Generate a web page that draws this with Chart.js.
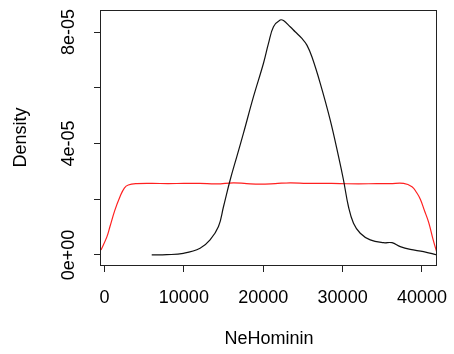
<!DOCTYPE html>
<html>
<head>
<meta charset="utf-8">
<script src="https://cdn.jsdelivr.net/npm/chart.js@4"></script>
<style>
  html, body { margin: 0; padding: 0; background: #fff; }
  #wrap { width: 454px; height: 354px; }
</style>
</head>
<body>
<div id="wrap"><canvas id="densityChart" width="454" height="354"></canvas></div>
<script>
// Data
const blackX = [5950, 7840, 9940, 12040, 13300, 14360, 14990, 15830, 16670, 17510, 18770, 20030, 20660, 21290, 22130, 22550, 23390, 24020, 24870, 25500, 26130, 27180, 28440, 29490, 30110, 30740, 31370, 32220, 33480, 35160, 36220, 37260, 38520, 40200, 41890];
const blackY = [0, 0.1e-6, 0.6e-6, 2.4e-6, 5.4e-6, 10.2e-6, 17.3e-6, 26.9e-6, 35.3e-6, 43.7e-6, 56.8e-6, 68.8e-6, 75.9e-6, 81.9e-6, 84.3e-6, 84.1e-6, 81.9e-6, 80.1e-6, 77.7e-6, 75.3e-6, 71.1e-6, 61.6e-6, 48.4e-6, 35.3e-6, 26.9e-6, 17.3e-6, 11.4e-6, 7.8e-6, 5.4e-6, 4.4e-6, 4.4e-6, 3.0e-6, 2.0e-6, 1.2e-6, 0];

const redX = [-440, 300, 690, 1300, 1950, 2500, 3000, 4060, 6000, 8000, 10000, 12000, 14150, 16240, 17900, 19610, 21500, 23390, 25500, 27500, 29700, 32000, 34320, 36000, 37680, 38740, 39300, 39790, 40300, 40840, 41400, 41890];
const redY = [1.8e-6, 6.5e-6, 10.2e-6, 16e-6, 20.9e-6, 24e-6, 25.1e-6, 25.6e-6, 25.7e-6, 25.6e-6, 25.7e-6, 25.7e-6, 25.5e-6, 25.9e-6, 25.6e-6, 25.4e-6, 25.6e-6, 25.9e-6, 25.7e-6, 25.7e-6, 25.6e-6, 25.5e-6, 25.6e-6, 25.6e-6, 25.7e-6, 24.5e-6, 22.5e-6, 20e-6, 16e-6, 11.7e-6, 5.5e-6, 0.7e-6];

const xTicks = [0, 10000, 20000, 30000, 40000];
const xTickLabels = ['0', '10000', '20000', '30000', '40000'];
const yTicks = [0, 2e-5, 4e-5, 6e-5, 8e-5];
const yTickLabels = ['0e+00', '', '4e-05', '', '8e-05'];

const toPoints = (xs, ys) => xs.map((x, i) => ({ x: x, y: ys[i] }));

Chart.defaults.font.family = "'Liberation Sans', Arial, sans-serif";
Chart.defaults.font.size = 18;
Chart.defaults.color = '#000';

// R style box around the plot region
const boxPlugin = {
    id: 'box',
    afterDraw(chart) {
        const a = chart.chartArea;
        const ctx = chart.ctx;
        ctx.save();
        ctx.strokeStyle = '#222';
        ctx.lineWidth = 1;
        ctx.strokeRect(Math.round(a.left) - 0.5, Math.round(a.top) + 0.5,
            Math.round(a.right - a.left), Math.round(a.bottom - a.top));
        ctx.restore();
    }
};

const noPad = s => { s.paddingTop = 0; s.paddingBottom = 0; s.paddingLeft = 0; s.paddingRight = 0; };

new Chart(document.getElementById('densityChart'), {
    type: 'line',
    data: {
        datasets: [
            {
                data: toPoints(blackX, blackY),
                borderColor: '#111',
                borderWidth: 1.2,
                pointRadius: 0,
                tension: 0.4,
                fill: false
            },
            {
                data: toPoints(redX, redY),
                borderColor: '#ff2020',
                borderWidth: 1.2,
                pointRadius: 0,
                tension: 0.4,
                fill: false
            }
        ]
    },
    options: {
        responsive: false,
        animation: false,
        layout: { padding: { top: 10, right: 17, left: 0, bottom: 0 } },
        plugins: { legend: { display: false }, tooltip: { enabled: false } },
        scales: {
            x: {
                type: 'linear',
                min: -440,
                max: 41890,
                border: { display: false },
                grid: { drawOnChartArea: false, drawTicks: true, tickLength: 7, color: '#222' },
                ticks: {
                    padding: 15,
                    maxRotation: 0,
                    autoSkip: false,
                    callback: v => xTickLabels[xTicks.indexOf(v)]
                },
                afterBuildTicks: s => { s.ticks = xTicks.map(v => ({ value: v })); },
                afterFit: s => { s.height = 89; noPad(s); },
                title: { display: true, text: 'NeHominin', padding: { top: 0, bottom: 4 } }
            },
            y: {
                min: -3.6e-6,
                max: 8.79e-5,
                border: { display: false },
                grid: { drawOnChartArea: false, drawTicks: true, tickLength: 7, color: '#222' },
                ticks: {
                    padding: 0,
                    minRotation: 90,
                    maxRotation: 90,
                    crossAlign: 'center',
                    autoSkip: false,
                    callback: v => yTickLabels[yTicks.indexOf(v)]
                },
                afterBuildTicks: s => { s.ticks = yTicks.map(v => ({ value: v })); },
                afterFit: s => { s.width = 101; noPad(s); },
                title: { display: true, text: 'Density', padding: { top: 10, bottom: 0 } }
            }
        }
    },
    plugins: [boxPlugin]
});
</script>
</body>
</html>
